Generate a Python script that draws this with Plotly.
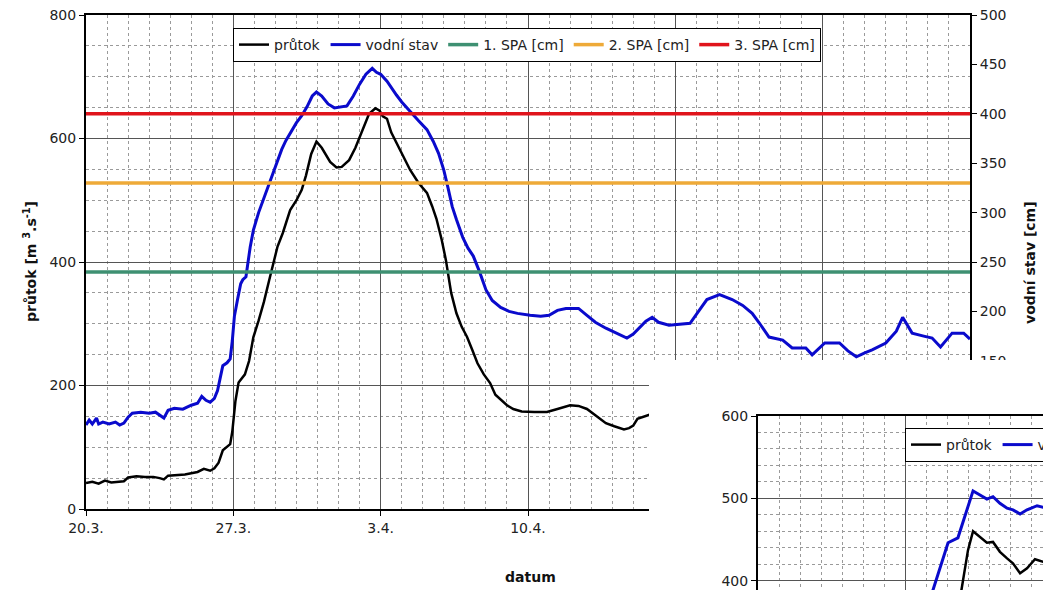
import pandas as pd
import plotly.graph_objects as go

W, H = 1043, 590
START = pd.Timestamp("2006-03-20")

# ---------------- main chart data ----------------
flow_days = [0.0, 0.3, 0.6, 0.9, 1.2, 1.5, 1.8, 2.0, 2.4, 2.8, 3.2, 3.5, 3.7, 3.9, 4.3, 4.7,
             5.0, 5.3, 5.6, 5.9, 6.1, 6.3, 6.5, 6.7, 6.85, 6.95, 7.1, 7.25, 7.4, 7.55, 7.75,
             7.95, 8.2, 8.45, 8.7, 8.9, 9.1, 9.35, 9.7, 10.0, 10.25, 10.45, 10.7, 10.95, 11.2,
             11.6, 11.9, 12.15, 12.5, 12.8, 13.15, 13.45, 13.75, 13.95, 14.1, 14.3, 14.5,
             14.75, 15.1, 15.4, 15.8, 16.2, 16.45, 16.65, 16.9, 17.1, 17.35, 17.6, 17.85,
             18.1, 18.35, 18.6, 18.9, 19.2, 19.45, 19.7, 20.0, 20.3, 20.7, 21.3, 21.9, 22.4,
             23.0, 23.4, 23.8, 24.2, 24.7, 25.1, 25.56, 25.8, 26.0, 26.2, 26.5, 26.8, 27.2]
flow_vals = [42, 44, 41, 46, 43, 44, 45, 51, 53, 52, 52, 50, 48, 54, 55, 56,
             58, 60, 65, 62, 66, 75, 95, 100, 105, 125, 175, 205, 212, 218, 240,
             278, 305, 335, 370, 400, 425, 447, 484, 500, 517, 540, 575, 595, 585,
             562, 553, 554, 565, 585, 614, 640, 649, 645, 636, 632, 610,
             593, 570, 549, 528, 512, 490, 470, 436, 403, 350, 317, 295,
             279, 258, 236, 218, 204, 185, 177, 168, 162, 158, 157, 157, 162,
             168, 167, 162, 152, 139, 134, 129, 131, 135, 146, 150, 153, 155]

stage_days = [0.0, 0.15, 0.3, 0.5, 0.6, 0.8, 1.1, 1.4, 1.6, 1.8, 2.0, 2.2, 2.6, 3.0, 3.3, 3.5,
              3.7, 3.9, 4.2, 4.6, 5.0, 5.3, 5.5, 5.7, 5.9, 6.1, 6.25, 6.4, 6.5, 6.7, 6.85,
              6.95, 7.05, 7.2, 7.35, 7.45, 7.6, 7.8, 7.95, 8.2, 8.4, 8.6, 8.85, 9.05, 9.3,
              9.5, 9.75, 10.0, 10.25, 10.5, 10.75, 10.95, 11.2, 11.5, 11.8, 12.1, 12.4, 12.7,
              13.0, 13.3, 13.6, 13.8, 14.0, 14.3, 14.55, 14.75, 15.0, 15.4, 15.8, 16.2, 16.5,
              16.75, 17.0, 17.2, 17.4, 17.6, 17.9, 18.15, 18.4, 18.7, 19.0, 19.3, 19.7, 20.1,
              20.5, 21.1, 21.6, 22.0, 22.4, 22.8, 23.4, 23.8, 24.2, 24.7, 25.2, 25.7, 26.0,
              26.3, 26.6, 26.9, 27.2, 27.7, 28.2, 28.7, 29.1, 29.5, 30.1, 30.7, 31.2, 31.65,
              32.0, 32.45, 33.1, 33.55, 34.2, 34.5, 35.1, 35.8, 36.2, 36.6, 37.0, 37.35, 38.0,
              38.5, 38.8, 39.25, 39.8, 40.2, 40.6, 41.15, 41.7, 42.0]
stage_vals = [85, 90, 86, 92, 86, 88, 86, 88, 85, 87, 93, 97, 98, 97, 98, 95,
              92, 100, 102, 101, 105, 107, 114, 110, 108, 112, 120, 135, 145, 148, 152,
              170, 195, 212, 228, 232, 235, 265, 282, 300, 312, 323, 338, 350, 364,
              373, 382, 391, 398, 407, 418, 422, 418, 410, 406, 407, 408, 418,
              430, 440, 446, 442, 440, 433, 425, 419, 412, 402, 393, 384, 372,
              360, 343, 325, 306, 293, 275, 264, 256, 240, 222, 211, 204, 200,
              198, 196, 195, 196, 201, 203, 203, 196, 189, 183, 178, 173, 177,
              184, 190, 194, 189, 186, 187, 188, 200, 212, 217, 212, 206, 198,
              188, 174, 171, 163, 163, 156, 168, 168, 160, 154, 158, 161, 168,
              180, 194, 178, 175, 173, 164, 178, 178, 172]

spa_names = ["1. SPA [cm]", "2. SPA [cm]", "3. SPA [cm]"]
spa_levels = [240, 330, 400]
spa_colors = ["#3e9072", "#eeaa38", "#e0141c"]
span_days = [0, 42]

# ---------------- inset chart data ----------------
inset_flow_days = [9.6, 10.0, 10.24, 10.57, 10.9, 11.19, 11.52, 11.86, 12.14, 12.48, 12.81, 13.19, 13.57, 13.9]
inset_flow_vals = [375, 437, 460, 453, 446, 447, 435, 427, 421, 409, 415, 426, 423, 424]
inset_stage_days = [8.1, 8.33, 8.81, 9.05, 9.52, 9.95, 10.24, 10.57, 10.9, 11.19, 11.52, 11.86,
                    12.14, 12.48, 12.81, 13.29, 13.57, 13.9]
inset_stage_vals = [370, 389, 429, 446, 452, 486, 509, 504, 499, 502, 494, 488,
                    486, 481, 486, 491, 489, 487]

DAY_MS = 86400000


def to_dates(days):
    return [START + pd.Timedelta(days=d) for d in days]


def px(x):
    return x / W


def py(y):
    return 1 - y / H


FONT = "DejaVu Sans"
TICKFONT = dict(family=FONT, size=14, color="#222222")
MAJOR_GRID = "#555555"
MINOR_GRID = "#9a9a9a"

fig = go.Figure()

# main chart
fig.add_trace(go.Scatter(x=to_dates(flow_days), y=flow_vals, name="průtok", mode="lines",
                         line=dict(color="#000000", width=2.5), xaxis="x", yaxis="y",
                         legend="legend"))
fig.add_trace(go.Scatter(x=to_dates(stage_days), y=stage_vals, name="vodní stav", mode="lines",
                         line=dict(color="#0a0acc", width=3), xaxis="x", yaxis="y2",
                         legend="legend"))
for name, lvl, col in zip(spa_names, spa_levels, spa_colors):
    fig.add_trace(go.Scatter(x=to_dates(span_days), y=[lvl, lvl], name=name, mode="lines",
                             line=dict(color=col, width=3.5), xaxis="x", yaxis="y2",
                             legend="legend"))

# white cover panel of the pasted inset
fig.add_trace(go.Scatter(x=[-1, 2, 2, -1, -1], y=[-1, -1, 2, 2, -1], mode="lines",
                         fill="toself", fillcolor="#ffffff", line=dict(width=0),
                         showlegend=False, hoverinfo="skip", xaxis="x2", yaxis="y3"))

# inset chart
fig.add_trace(go.Scatter(x=to_dates(inset_flow_days), y=inset_flow_vals, name="průtok",
                         mode="lines", line=dict(color="#000000", width=2.5),
                         xaxis="x3", yaxis="y4", legend="legend2"))
fig.add_trace(go.Scatter(x=to_dates(inset_stage_days), y=inset_stage_vals, name="vodní stav",
                         mode="lines", line=dict(color="#0a0acc", width=3),
                         xaxis="x3", yaxis="y4", legend="legend2"))

minor_x = dict(dtick=DAY_MS, showgrid=True, gridcolor=MINOR_GRID, griddash="3px,3px", gridwidth=1)

fig.update_layout(
    width=W, height=H,
    margin=dict(l=0, r=0, t=0, b=0, autoexpand=False),
    paper_bgcolor="white", plot_bgcolor="white",
    font=dict(family=FONT, size=14, color="#222222"),
    hovermode=False,
    xaxis=dict(domain=[px(86), px(970)], anchor="y", type="date",
               range=[START, START + pd.Timedelta(days=42)],
               tick0=START, dtick=7 * DAY_MS, tickformat="%-d.%-m.",
               showgrid=True, gridcolor=MAJOR_GRID, gridwidth=1, minor=minor_x,
               showline=True, linecolor="black", linewidth=2, mirror=True,
               ticks="outside", ticklen=5, tickcolor="black", tickfont=TICKFONT,
               zeroline=False),
    yaxis=dict(domain=[py(509), py(15)], anchor="x", range=[0, 800], dtick=200,
               showgrid=True, gridcolor=MAJOR_GRID, gridwidth=1,
               minor=dict(dtick=50, showgrid=True, gridcolor=MINOR_GRID, griddash="3px,3px",
                          gridwidth=1),
               showline=True, linecolor="black", linewidth=2,
               ticks="outside", ticklen=5, tickcolor="black", tickfont=TICKFONT,
               zeroline=False),
    yaxis2=dict(overlaying="y", side="right", anchor="x", range=[0, 500], dtick=50,
                showgrid=False, showline=True, linecolor="black", linewidth=2,
                ticks="outside", ticklen=5, tickcolor="black", tickfont=TICKFONT,
                zeroline=False),
    xaxis2=dict(domain=[px(649), 1], anchor="y3", range=[0, 1], visible=False),
    yaxis3=dict(domain=[0, py(360)], anchor="x2", range=[0, 1], visible=False),
    xaxis3=dict(domain=[px(758), 1], anchor="y4", type="date", side="top",
                range=[START, START + pd.Timedelta(days=(W - 758) / 21.0)],
                tick0=START, dtick=7 * DAY_MS, showticklabels=False, ticks="",
                showgrid=True, gridcolor=MAJOR_GRID, gridwidth=1, minor=minor_x,
                showline=True, linecolor="black", linewidth=2, zeroline=False),
    yaxis4=dict(domain=[0, py(416)], anchor="x3", range=[388.6, 600], dtick=100,
                showgrid=True, gridcolor=MAJOR_GRID, gridwidth=1,
                minor=dict(dtick=20, showgrid=True, gridcolor=MINOR_GRID, griddash="3px,3px",
                           gridwidth=1),
                showline=True, linecolor="black", linewidth=2,
                ticks="outside", ticklen=5, tickcolor="black", tickfont=TICKFONT,
                zeroline=False),
    legend=dict(x=px(233), y=py(28), xanchor="left", yanchor="top", orientation="h",
                bgcolor="white", bordercolor="black", borderwidth=1,
                font=dict(family=FONT, size=14, color="#222222")),
    legend2=dict(x=px(905), y=py(428), xanchor="left", yanchor="top", orientation="h",
                 bgcolor="white", bordercolor="black", borderwidth=1,
                 font=dict(family=FONT, size=14, color="#222222")),
    annotations=[
        dict(text="<b>průtok [m <sup>3</sup>.s<sup>-1</sup>]</b>", xref="paper", yref="paper",
             x=px(30), y=py(262), xanchor="center", yanchor="middle", textangle=-90,
             showarrow=False, font=dict(family=FONT, size=14, color="#111111")),
        dict(text="<b>datum</b>", xref="paper", yref="paper",
             x=px(530), y=py(577), xanchor="center", yanchor="middle",
             showarrow=False, font=dict(family=FONT, size=14, color="#111111")),
        dict(text="<b>vodní stav [cm]</b>", xref="paper", yref="paper",
             x=px(1030), y=py(263), xanchor="center", yanchor="middle", textangle=-90,
             showarrow=False, font=dict(family=FONT, size=14, color="#111111")),
    ],
)

fig.write_html("out.html")
